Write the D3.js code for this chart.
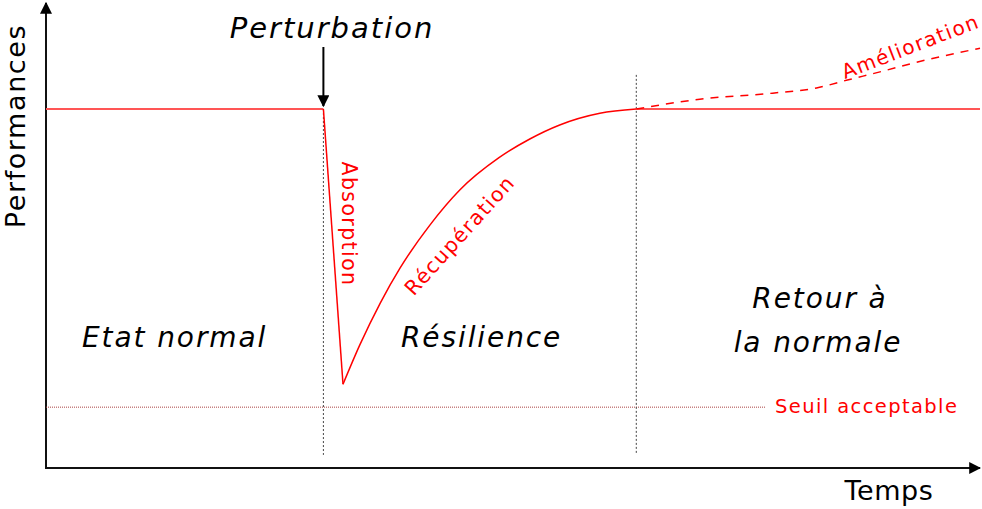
<!DOCTYPE html>
<html><head><meta charset="utf-8">
<script src="https://cdn.jsdelivr.net/npm/d3@7"></script>
<style>html,body{margin:0;padding:0;background:#fff;}svg{display:block;font-family:"DejaVu Sans",Verdana,sans-serif;}</style>
</head><body>
<script>
// ---- data ----
const timeDomain = [0, 100];
const perfDomain = [0, 100];
const normalLevel = 76.7;
const thresholdLevel = 13.0;
const perturbationTime = 29.7;
const returnTime = 63.2;
const normalPhase = [[0, 76.7], [29.7, 76.7]];
const absorptionPhase = [[29.7, 76.7], [31.8, 17.9]];
const recoveryPhase = [[31.8, 17.9], [33.6, 26.3], [35.8, 35.3], [37.9, 42.7], [41.1, 51.9], [44.3, 59.4], [48.5, 66.3], [51.8, 70.3], [55.0, 73.3], [59.3, 75.8], [63.2, 76.7]];
const steadyPhase = [[63.2, 76.7], [100, 76.7]];
const improvementPhase = [[63.2, 76.7], [70.0, 78.8], [77.8, 80.1], [82.5, 81.2], [85.8, 82.9], [89.6, 84.8], [92.8, 86.5], [100, 89.7]];
const regionLabels = ["Etat normal", "Résilience", "Retour à", "la normale"];
const curveLabels = ["Absorption", "Récupération", "Amélioration", "Seuil acceptable"];
const axisTitles = ["Temps", "Performances"];
const eventLabel = "Perturbation";

// ---- layout ----
const W = 982, H = 509;
const x = d3.scaleLinear().domain(timeDomain).range([46, 980]);
const y = d3.scaleLinear().domain(perfDomain).range([468, 0]);

const svg = d3.select("body").append("svg").attr("width", W).attr("height", H);
const defs = svg.append("defs");
defs.append("marker").attr("id", "arr2").attr("viewBox", "0 0 10 10").attr("refX", 9).attr("refY", 5)
  .attr("markerWidth", 12).attr("markerHeight", 12).attr("markerUnits", "userSpaceOnUse").attr("orient", "auto")
  .append("path").attr("d", "M0,0L10,5L0,10Z").attr("fill", "#000");

// axes (line only)
const xAxis = svg.append("g").attr("transform", `translate(0,${y(0)})`)
  .call(d3.axisBottom(x).tickValues([]).tickSizeOuter(0));
xAxis.select(".domain").attr("stroke", "#111").attr("stroke-width", 2).attr("marker-end", "url(#arr2)")
  .attr("d", `M${x(0)-1},0H${x(100)}`);
const yAxis = svg.append("g").attr("transform", `translate(${x(0)},0)`)
  .call(d3.axisLeft(y).tickValues([]).tickSizeOuter(0));
yAxis.select(".domain").attr("stroke", "#111").attr("stroke-width", 2).attr("marker-end", "url(#arr2)")
  .attr("d", `M0,${y(0)+1}V${y(100)+3}`);

// threshold line
svg.append("line").attr("x1", x(0)).attr("x2", x(77)).attr("y1", y(thresholdLevel)).attr("y2", y(thresholdLevel))
  .attr("stroke", "#a44").attr("stroke-width", 1).attr("stroke-dasharray", "1,1");

// event verticals
svg.append("line").attr("x1", x(perturbationTime)).attr("x2", x(perturbationTime))
  .attr("y1", y(normalLevel)).attr("y2", y(2.8))
  .attr("stroke", "#444").attr("stroke-width", 1).attr("stroke-dasharray", "2,2");
svg.append("line").attr("x1", x(returnTime)).attr("x2", x(returnTime))
  .attr("y1", y(84)).attr("y2", y(2.8))
  .attr("stroke", "#444").attr("stroke-width", 1).attr("stroke-dasharray", "2,2");

const line = d3.line().x(d => x(d[0])).y(d => y(d[1]));
const curve = d3.line().x(d => x(d[0])).y(d => y(d[1])).curve(d3.curveMonotoneX);

svg.append("path").attr("d", line(normalPhase)).attr("fill", "none").attr("stroke", "#f55").attr("stroke-width", 2);
svg.append("path").attr("d", line(steadyPhase)).attr("fill", "none").attr("stroke", "#f55").attr("stroke-width", 2);
svg.append("path").attr("d", line(absorptionPhase)).attr("fill", "none").attr("stroke", "#f00").attr("stroke-width", 1.5);
svg.append("path").attr("d", curve(recoveryPhase)).attr("fill", "none").attr("stroke", "#f00").attr("stroke-width", 1.5);
svg.append("path").attr("d", curve(improvementPhase)).attr("fill", "none").attr("stroke", "#f00").attr("stroke-width", 1.5)
  .attr("stroke-dasharray", "8,7");

// perturbation arrow & label
svg.append("line").attr("x1", x(perturbationTime)).attr("x2", x(perturbationTime))
  .attr("y1", 47).attr("y2", y(normalLevel) - 3)
  .attr("stroke", "#000").attr("stroke-width", 2).attr("marker-end", "url(#arr2)");
svg.append("text").attr("x", 332).attr("y", 38).attr("text-anchor", "middle")
  .attr("font-size", 29).attr("letter-spacing", 2).attr("font-style", "italic").attr("fill", "#000").text(eventLabel);

// region labels
const italic = (t, px, py, anchor) => svg.append("text").attr("x", px).attr("y", py).attr("text-anchor", anchor)
  .attr("font-size", 28).attr("letter-spacing", 1.9).attr("font-style", "italic").attr("fill", "#000").text(t);
italic(regionLabels[0], 82, 347, "start");
italic(regionLabels[1], 401, 347, "start");
italic(regionLabels[2], 820, 308, "middle");
italic(regionLabels[3], 818, 352, "middle");

// curve labels
const red = (t, px, py, rot, size, ls) => svg.append("text")
  .attr("transform", `translate(${px},${py}) rotate(${rot})`).attr("text-anchor", "middle")
  .attr("font-size", size).attr("letter-spacing", ls).attr("fill", "#f00").text(t);
red(curveLabels[0], 342, 224, 90, 20.5, 1.4);
red(curveLabels[1], 465, 240, -48, 20.5, 1.4);
red(curveLabels[2], 913, 53, -21, 20, 1.5);
svg.append("text").attr("x", 775).attr("y", 413).attr("font-size", 19.5).attr("letter-spacing", 1.4).attr("fill", "#f00").text(curveLabels[3]);

// axis titles
svg.append("text").attr("x", 889).attr("y", 500).attr("text-anchor", "middle").attr("font-size", 27).attr("letter-spacing", 0.6).attr("fill", "#000").text(axisTitles[0]);
svg.append("text").attr("transform", "translate(25,126) rotate(-90)").attr("text-anchor", "middle")
  .attr("font-size", 27).attr("letter-spacing", 1.6).attr("fill", "#000").text(axisTitles[1]);
</script>
</body></html>
